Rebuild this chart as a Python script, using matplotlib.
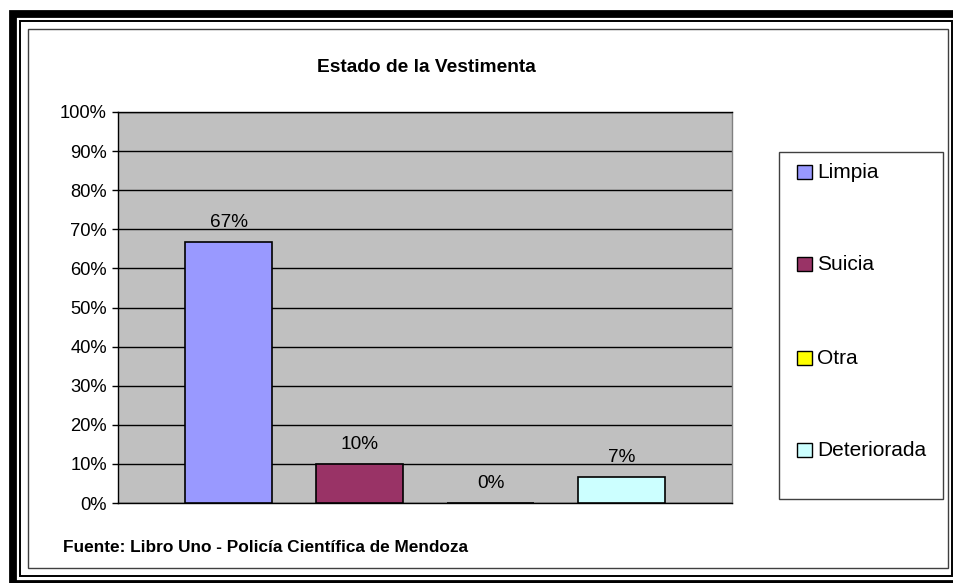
import numpy as np
import matplotlib
matplotlib.use('Agg')
import matplotlib.pyplot as plt
from matplotlib.patches import Rectangle

# ----------------------------------------------------------------------------
# Datos
# ----------------------------------------------------------------------------
series = ['Limpia', 'Suicia', 'Otra', 'Deteriorada']
valores = [66.7, 10.0, 0.0, 6.7]  # porcentaje
colores = ['#9999FF', '#993366', '#FFFF00', '#CCFFFF']
y_ticks = list(range(0, 101, 10))

titulo = 'Estado de la Vestimenta'
fuente = 'Fuente: Libro Uno - Policía Científica de Mendoza'

W, H = 954, 583
plt.rcParams['font.family'] = ['Liberation Sans', 'DejaVu Sans']


def fx(px):
    return px / W


def fy(py):
    return 1 - py / H


fig = plt.figure(figsize=(W / 100, H / 100), dpi=100)
fig.patch.set_facecolor('white')

# marcos de la figura (pixeles)
def marco(x0, y0, x1, y1, lw, color):
    fig.patches.append(Rectangle((fx(x0), fy(y1)), fx(x1) - fx(x0), fy(y0) - fy(y1),
                                 transform=fig.transFigure, fill=False,
                                 edgecolor=color, linewidth=lw, zorder=10))

marco(13, 13.5, 968, 584, 5.6, 'black')
marco(20, 20.5, 952, 576, 1.4, 'black')
marco(28, 29, 948, 568, 1.0, '#404040')

# ----------------------------------------------------------------------------
# Grafico de barras
# ----------------------------------------------------------------------------
ax = fig.add_axes([fx(118), fy(503), fx(732) - fx(118), fy(112) - fy(503)])
ax.set_facecolor('#C0C0C0')

x = np.arange(len(series))
bars = ax.bar(x, valores, width=0.664, color=colores, edgecolor='black',
              linewidth=1.2, zorder=3)

for xi, v in zip(x, valores):
    ax.annotate('{:.0f}%'.format(v), (xi, v), xytext=(0, 11), textcoords='offset points',
                ha='center', va='baseline', fontsize=13.7)

ax.set_xlim(-0.844, 3.844)
ax.set_ylim(0, 100)
ax.set_yticks(y_ticks)
ax.set_yticklabels(['{}%'.format(t) for t in y_ticks], fontsize=13.2)
ax.set_xticks([])
ax.tick_params(axis='y', direction='out', length=4, width=1, pad=4)
ax.grid(True, axis='y', color='black', linewidth=1, zorder=1)
ax.set_axisbelow(True)

ax.spines['left'].set_color('black')
ax.spines['bottom'].set_color('black')
ax.spines['top'].set_color('black')
ax.spines['right'].set_color('#808080')
for s in ax.spines.values():
    s.set_linewidth(1)

# titulo y fuente
fig.text(fx(426), fy(67), titulo, ha='center', va='center', fontsize=13.8,
         fontweight='bold')
fig.text(fx(63), fy(548), fuente, ha='left', va='center', fontsize=12.4,
         fontweight='bold')

# ----------------------------------------------------------------------------
# Leyenda (manual, estilo Excel)
# ----------------------------------------------------------------------------
marco(779, 152, 943, 499, 1.0, '#404040')
y_items = [172, 264, 358, 450]
for nombre, col, yi in zip(series, colores, y_items):
    fig.patches.append(Rectangle((fx(797), fy(yi + 7)), fx(812) - fx(797),
                                 fy(yi - 7) - fy(yi + 7),
                                 transform=fig.transFigure, facecolor=col,
                                 edgecolor='black', linewidth=1.0, zorder=10))
    fig.text(fx(817), fy(yi), nombre, ha='left', va='center', fontsize=15)

fig.savefig('out.png', dpi=100)
